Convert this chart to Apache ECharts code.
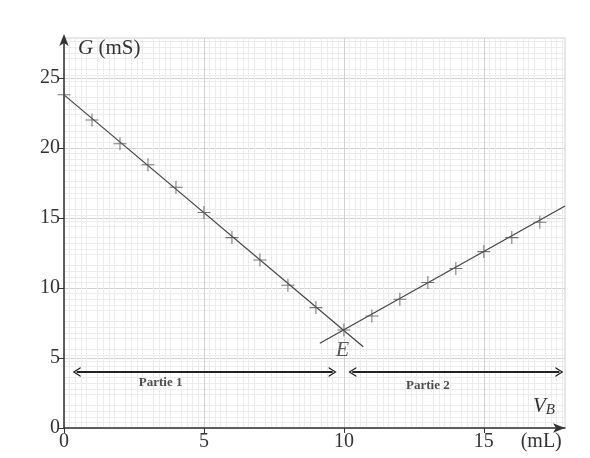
<!DOCTYPE html>
<html><head><meta charset="utf-8">
<script src="https://cdn.jsdelivr.net/npm/echarts@6/dist/echarts.min.js"></script>
<style>html,body{margin:0;padding:0;background:#fff}#c{width:590px;height:458px}</style>
</head><body><div id="c"></div>
<script>
// Data
const vb1 = [0, 1, 2, 3, 4, 5, 6, 7, 8, 9, 10];
const g1 = [23.8, 22.0, 20.3, 18.8, 17.2, 15.4, 13.6, 12.0, 10.2, 8.6, 7.0];
const vb2 = [11, 12, 13, 14, 15, 16, 17];
const g2 = [8.0, 9.2, 10.4, 11.4, 12.6, 13.6, 14.7];
const fit1 = [[0, 23.8], [10.69, 5.8]];
const fit2 = [[9.14, 6.05], [17.9, 15.86]];
const xTicks = [0, 5, 10, 15];
const yTicks = [0, 5, 10, 15, 20, 25];
const partie1 = { from: 0.45, to: 9.6, y: 4, labelX: 3.45, labelY: 3.25, text: 'Partie 1' };
const partie2 = { from: 10.3, to: 17.7, y: 4, labelX: 13.0, labelY: 3.0, text: 'Partie 2' };
const pointE = { x: 9.95, y: 5.55, text: 'E' };

const serif = '"Liberation Serif", "DejaVu Serif", serif';
const plus = 'path://M0,4.6H10V5.4H0Z M4.6,0H5.4V10H4.6Z';
const chevron = 'path://M0,10 L5,0 L10,10 L8.6,10 L5,2.8 L1.4,10 Z';

const chart = echarts.init(document.getElementById('c'));
chart.setOption({
  animation: false,
  backgroundColor: '#fff',
  grid: { left: 64, right: 25, top: 38, bottom: 30, show: true, borderColor: '#cfcfcf', borderWidth: 1 },
  xAxis: {
    type: 'value', min: 0, max: 17.9, interval: 1,
    axisLine: { show: true, onZero: false, lineStyle: { color: '#333', width: 1.5 }, symbol: ['none', 'arrow'], symbolSize: [7, 12], symbolOffset: [0, 0] },
    axisTick: { show: true, customValues: xTicks, length: 5, inside: false, lineStyle: { color: '#333' } },
    axisLabel: { customValues: xTicks.concat([17.05]), formatter: v => v > 16 ? '(mL)' : String(v), fontFamily: serif, fontSize: 20, color: '#333', margin: 4 },
    splitLine: { show: true, lineStyle: { color: '#d2d2d2', width: 1 } },
    minorTick: { show: false, splitNumber: 5 },
    minorSplitLine: { show: true, lineStyle: { color: '#ececec', width: 1 } },
    name: '{v|V}{s|B}', nameLocation: 'end', nameGap: -32,
    nameTextStyle: { align: 'left', verticalAlign: 'bottom', padding: [0, 0, 10, 0],
      rich: { v: { fontFamily: serif, fontStyle: 'italic', fontSize: 21, color: '#333' },
              s: { fontFamily: serif, fontStyle: 'italic', fontSize: 15, color: '#333', verticalAlign: 'bottom', padding: [8, 0, 0, 0] } } }
  },
  yAxis: {
    type: 'value', min: 0, max: 27.86, interval: 2,
    axisLine: { show: true, onZero: false, lineStyle: { color: '#333', width: 1.5 }, symbol: ['none', 'arrow'], symbolSize: [7, 12], symbolOffset: [0, 4] },
    axisTick: { show: true, customValues: yTicks, length: 5, lineStyle: { color: '#333' } },
    axisLabel: { customValues: yTicks, fontFamily: serif, fontSize: 20, color: '#333', margin: 4 },
    splitLine: { show: true, lineStyle: { color: '#d2d2d2', width: 1 } },
    minorTick: { show: false, splitNumber: 5 },
    minorSplitLine: { show: true, lineStyle: { color: '#ececec', width: 1 } },
    name: '{i|G} (mS)', nameLocation: 'end', nameGap: -10,
    nameTextStyle: { align: 'left', verticalAlign: 'middle', padding: [0, 0, 0, 14], fontFamily: serif, fontSize: 21, color: '#333',
      rich: { i: { fontFamily: serif, fontStyle: 'italic', fontSize: 21, color: '#333' } } }
  },
  series: [
    { type: 'line', data: fit1, symbol: 'none', lineStyle: { color: '#444', width: 1.2 }, z: 3 },
    { type: 'line', data: fit2, symbol: 'none', lineStyle: { color: '#444', width: 1.2 }, z: 3 },
    { type: 'scatter', data: vb1.map((x, i) => [x, g1[i]]), symbol: plus, symbolSize: 13, itemStyle: { color: '#555' }, z: 4 },
    { type: 'scatter', data: vb2.map((x, i) => [x, g2[i]]), symbol: plus, symbolSize: 13, itemStyle: { color: '#555' }, z: 4 },
    { type: 'line', data: [], z: 5,
      markLine: { silent: true, symbol: [chevron, chevron], symbolSize: [10, 8],
        lineStyle: { color: '#222', width: 1.8, type: 'solid' }, label: { show: false },
        data: [
          [{ coord: [partie1.from, partie1.y] }, { coord: [partie1.to, partie1.y] }],
          [{ coord: [partie2.from, partie2.y] }, { coord: [partie2.to, partie2.y] }]
        ] } },
    { type: 'scatter', symbolSize: 0, z: 6,
      data: [
        { value: [partie1.labelX, partie1.labelY], name: partie1.text },
        { value: [partie2.labelX, partie2.labelY], name: partie2.text }
      ],
      label: { show: true, position: 'inside', formatter: p => p.name, fontFamily: serif, fontWeight: 'bold', fontSize: 13, color: '#222' } },
    { type: 'scatter', symbolSize: 0, z: 6,
      data: [{ value: [pointE.x, pointE.y], name: pointE.text }],
      label: { show: true, position: 'inside', formatter: p => p.name, fontFamily: serif, fontStyle: 'italic', fontSize: 22, color: '#333' } }
  ]
});
</script></body></html>
